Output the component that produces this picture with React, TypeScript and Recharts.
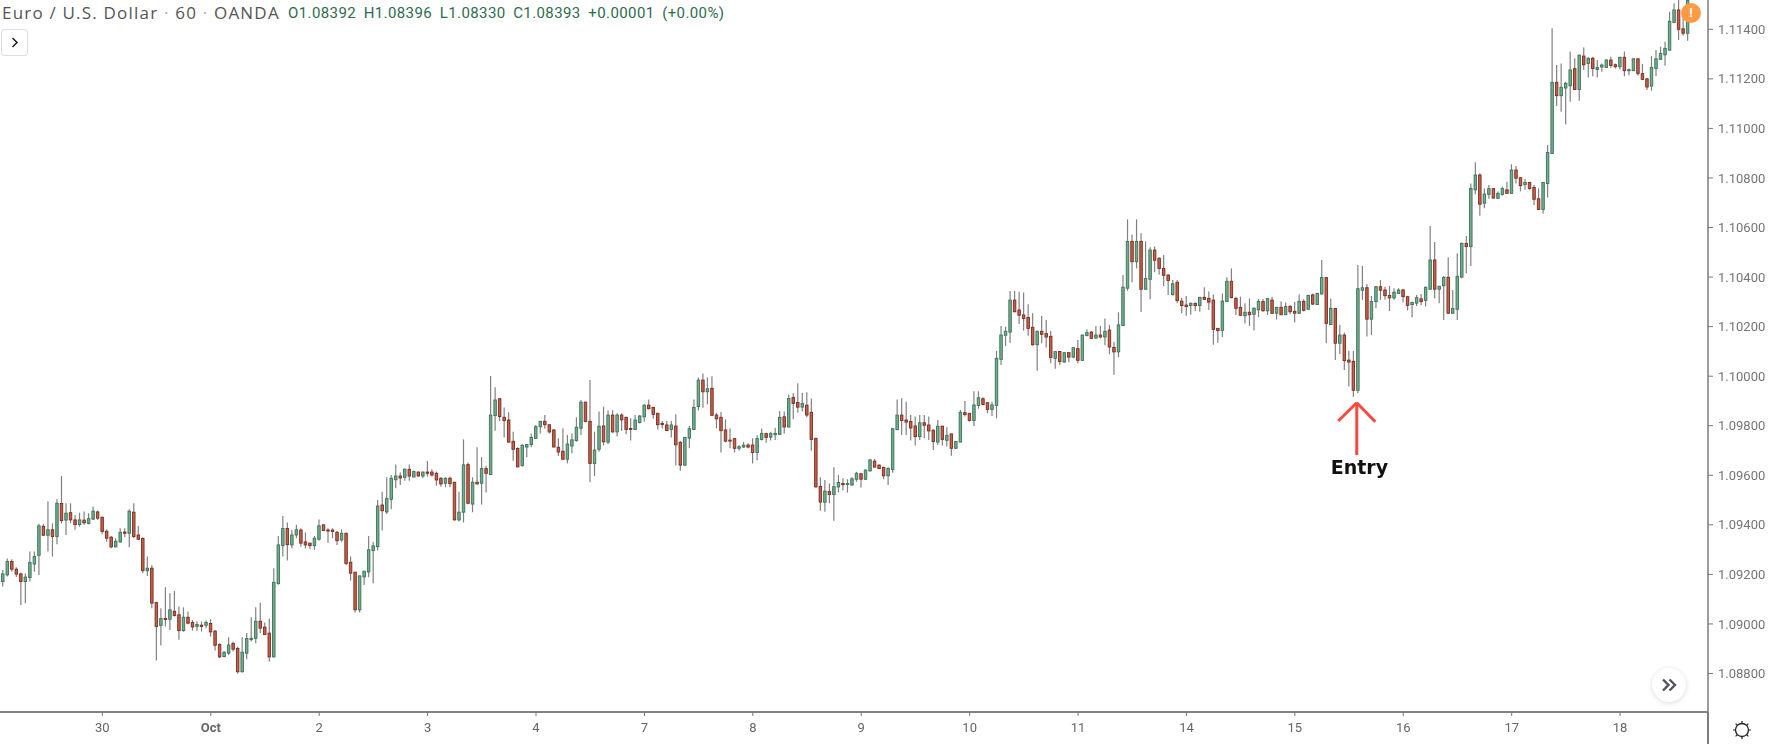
import { ComposedChart, Bar, XAxis, YAxis, ReferenceLine, ReferenceDot } from 'recharts'

// prices are kept in points (1.09171 -> 109171)
const opens = [109171,109198,109252,109221,109202,109171,109187,109242,109277,109394,109358,109380,109353,109486,109419,109449,109420,109401,109419,109406,109423,109452,109431,109374,109350,109311,109331,109371,109366,109451,109359,109345,109215,109225,109086,108994,109022,109019,109051,109037,108973,109027,109006,108990,108995,108995,109002,108971,108917,108868,108882,108921,108901,108807,108882,108937,108942,109011,108987,108963,108867,109163,109316,109385,109319,109359,109379,109331,109326,109316,109342,109400,109379,109379,109370,109339,109366,109249,109209,109057,109190,109210,109296,109312,109480,109452,109503,109582,109597,109592,109624,109593,109613,109597,109613,109613,109608,109588,109568,109588,109572,109420,109451,109643,109484,109572,109568,109627,109603,109841,109909,109834,109823,109737,109708,109639,109714,109724,109749,109796,109818,109804,109783,109713,109697,109665,109718,109740,109790,109895,109818,109648,109705,109799,109734,109843,109775,109843,109834,109789,109785,109813,109836,109883,109874,109850,109809,109803,109785,109799,109733,109641,109750,109785,109877,109984,109937,109951,109843,109834,109783,109742,109748,109709,109714,109722,109722,109692,109745,109768,109754,109764,109765,109836,109795,109914,109894,109875,109883,109854,109749,109555,109491,109535,109522,109553,109567,109563,109561,109584,109606,109584,109618,109657,109641,109632,109598,109623,109784,109843,109823,109817,109799,109756,109812,109803,109782,109734,109798,109741,109767,109709,109734,109853,109849,109821,109882,109909,109893,109866,109882,110068,110165,110178,110307,110267,110247,110237,110197,110127,110181,110172,110161,110072,110100,110057,110095,110077,110111,110064,110164,110178,110154,110166,110158,110186,110116,110098,110204,110355,110544,110462,110544,110351,110391,110509,110476,110435,110408,110329,110379,110303,110287,110285,110294,110285,110318,110314,110307,110193,110185,110301,110383,110314,110277,110244,110258,110250,110268,110301,110264,110307,110254,110278,110248,110282,110262,110254,110302,110270,110328,110289,110332,110398,110208,110273,110133,110166,110065,110060,109943,110347,110357,110230,110301,110361,110348,110326,110316,110334,110348,110321,110289,110295,110312,110306,110351,110469,110351,110365,110399,110254,110270,110400,110536,110523,110752,110812,110698,110734,110757,110718,110734,110752,110738,110832,110801,110773,110782,110762,110716,110673,110778,110899,111186,111132,111163,111172,111241,111157,111292,111262,111283,111238,111248,111246,111276,111257,111249,111287,111233,111233,111281,111221,111200,111171,111242,111279,111297,111316,111428,111478,111402,111384]
const highs = [109218,109264,109261,109229,109207,109205,109292,109292,109404,109404,109495,109406,109503,109597,109487,109487,109440,109449,109454,109447,109474,109458,109433,109382,109355,109346,109386,109386,109463,109487,109396,109350,109272,109238,109090,109063,109148,109124,109133,109070,109067,109050,109016,109010,109010,109014,109019,108976,108922,108890,108946,108929,108909,108946,108963,109027,109067,109086,109006,109022,109225,109355,109436,109409,109380,109400,109386,109369,109328,109355,109422,109402,109386,109386,109375,109382,109368,109272,109210,109195,109214,109355,109332,109500,109534,109592,109601,109644,109611,109628,109644,109619,109615,109615,109658,109624,109615,109592,109592,109595,109573,109534,109745,109652,109592,109713,109673,109638,110001,109955,109910,109874,109854,109776,109713,109726,109726,109769,109803,109819,109843,109806,109786,109749,109790,109763,109769,109834,109904,109897,109985,109776,109857,109877,109861,109863,109850,109850,109836,109830,109843,109843,109887,109906,109877,109852,109819,109819,109819,109846,109738,109754,109800,109906,109995,110011,109995,110000,109852,109855,109826,109789,109749,109722,109735,109729,109749,109762,109789,109772,109776,109792,109859,109857,109926,109931,109971,109933,109935,109910,109753,109592,109581,109567,109632,109601,109588,109584,109592,109614,109610,109624,109666,109666,109645,109635,109632,109790,109906,109911,109897,109843,109837,109843,109843,109837,109786,109823,109800,109794,109769,109739,109864,109900,109853,109939,109939,109915,109895,109897,110102,110203,110200,110344,110344,110341,110338,110290,110254,110184,110243,110227,110182,110102,110102,110096,110096,110116,110146,110167,110189,110182,110203,110203,110233,110207,110139,110258,110408,110633,110571,110633,110577,110544,110520,110523,110480,110489,110412,110388,110388,110317,110324,110297,110297,110321,110359,110342,110330,110194,110334,110399,110435,110321,110321,110294,110314,110278,110312,110312,110314,110321,110279,110301,110297,110287,110299,110330,110310,110329,110334,110337,110469,110399,110314,110274,110207,110176,110103,110102,110449,110445,110372,110324,110364,110388,110361,110364,110355,110355,110353,110324,110301,110328,110332,110361,110606,110542,110364,110404,110480,110348,110496,110540,110566,110778,110863,110819,110758,110772,110758,110745,110765,110785,110855,110848,110803,110796,110784,110772,110758,110785,110933,111404,111256,111262,111188,111310,111283,111297,111327,111287,111289,111276,111262,111279,111289,111262,111289,111310,111242,111282,111282,111260,111203,111292,111316,111330,111350,111471,111505,111518,111451,111518]
const lows = [109151,109191,109211,109189,109076,109084,109171,109211,109198,109355,109292,109272,109322,109406,109359,109406,109380,109393,109400,109402,109420,109420,109363,109332,109306,109310,109328,109350,109310,109346,109339,109205,109194,109063,108852,108913,108990,108976,109030,108936,108969,108999,108973,108973,108969,108983,108949,108893,108862,108866,108875,108889,108799,108804,108858,108929,108922,108963,108956,108847,108866,109158,109272,109256,109306,109346,109312,109305,109301,109299,109336,109375,109328,109346,109319,109332,109238,109175,109046,109046,109157,109188,109164,109296,109377,109444,109463,109548,109561,109578,109578,109592,109595,109588,109595,109595,109558,109554,109552,109552,109417,109413,109410,109483,109451,109564,109482,109531,109601,109780,109819,109753,109732,109659,109632,109635,109673,109713,109747,109769,109788,109769,109713,109678,109662,109648,109689,109736,109763,109814,109572,109597,109695,109721,109725,109772,109758,109780,109766,109740,109783,109809,109816,109866,109828,109785,109789,109779,109753,109639,109618,109637,109709,109783,109861,109873,109886,109840,109789,109692,109733,109709,109692,109699,109711,109709,109648,109661,109740,109731,109740,109742,109764,109769,109793,109826,109852,109857,109834,109699,109551,109457,109453,109487,109417,109531,109540,109530,109557,109574,109551,109581,109614,109632,109625,109584,109561,109610,109783,109763,109763,109740,109720,109742,109749,109742,109702,109722,109720,109716,109679,109706,109733,109837,109817,109799,109869,109882,109850,109839,109830,110045,110122,110135,110258,110211,110184,110163,110123,110022,110133,110116,110052,110030,110045,110055,110056,110072,110052,110062,110160,110151,110151,110153,110125,110089,110006,110076,110203,110345,110379,110435,110259,110348,110310,110419,110410,110364,110328,110326,110294,110254,110244,110248,110263,110260,110307,110267,110127,110135,110157,110298,110314,110247,110244,110213,110203,110184,110238,110260,110247,110251,110229,110247,110247,110250,110217,110251,110261,110268,110287,110287,110330,110133,110207,110065,110090,110025,109958,109917,109931,110308,110160,110166,110274,110308,110308,110263,110308,110332,110297,110265,110238,110283,110287,110281,110348,110314,110294,110227,110251,110251,110227,110395,110415,110445,110734,110648,110678,110716,110716,110715,110729,110735,110737,110778,110746,110752,110752,110691,110672,110657,110721,110898,111090,111067,111016,111108,111155,111112,111236,111206,111211,111206,111229,111244,111244,111242,111238,111211,111215,111232,111213,111195,111155,111152,111211,111276,111253,111315,111424,111357,111374,111354]
const closes = [109202,109252,109221,109201,109171,109189,109248,109272,109396,109358,109380,109353,109487,109417,109447,109420,109401,109420,109408,109425,109455,109427,109373,109346,109311,109334,109370,109366,109455,109353,109342,109215,109225,109084,108990,109022,109019,109057,109034,108973,109027,109003,108988,108998,108990,109006,108968,108914,108867,108886,108915,108898,108807,108886,108941,108942,109011,108983,108957,108867,109168,109319,109385,109320,109359,109380,109326,109319,109316,109346,109396,109377,109377,109373,109336,109366,109244,109205,109057,109194,109213,109299,109315,109476,109457,109506,109588,109597,109589,109624,109597,109615,109597,109613,109608,109601,109581,109565,109588,109566,109420,109451,109642,109487,109572,109565,109627,109608,109843,109904,109837,109821,109734,109705,109634,109721,109724,109753,109796,109818,109804,109775,109714,109694,109665,109726,109743,109794,109895,109817,109648,109702,109798,109735,109843,109775,109843,109824,109785,109785,109823,109839,109883,109869,109846,109804,109805,109781,109803,109723,109641,109753,109788,109874,109984,109937,109949,109842,109828,109780,109738,109738,109709,109715,109722,109714,109692,109748,109769,109753,109768,109769,109834,109795,109910,109890,109875,109890,109843,109745,109553,109492,109536,109523,109554,109571,109562,109567,109586,109608,109584,109621,109662,109633,109627,109598,109628,109788,109843,109821,109815,109791,109756,109812,109802,109779,109736,109798,109745,109761,109709,109736,109854,109845,109821,109884,109913,109886,109866,109884,110072,110166,110181,110307,110260,110246,110233,110193,110127,110181,110169,110158,110076,110099,110059,110095,110077,110115,110064,110166,110176,110153,110166,110158,110181,110118,110098,110207,110359,110544,110462,110544,110351,110394,110509,110468,110435,110407,110386,110373,110305,110285,110281,110294,110285,110318,110310,110299,110189,110184,110303,110383,110317,110274,110246,110258,110248,110274,110302,110264,110313,110254,110278,110248,110281,110260,110254,110302,110266,110326,110291,110334,110398,110213,110274,110133,110166,110063,110057,109943,110353,110357,110230,110301,110361,110347,110325,110316,110339,110348,110321,110286,110297,110317,110301,110359,110469,110351,110363,110399,110254,110273,110403,110536,110523,110758,110812,110694,110735,110757,110719,110738,110757,110738,110832,110799,110769,110782,110758,110714,110673,110782,110903,111186,111132,111166,111182,111236,111157,111296,111257,111283,111242,111246,111256,111276,111254,111249,111287,111233,111237,111281,111222,111198,111167,111246,111281,111303,111323,111432,111478,111400,111384,111516]

const dayTicks = [22, 46, 70, 94, 118, 142, 166, 190, 214, 238, 262, 286, 310, 334, 358]
const dayLabels = ['30', 'Oct', '2', '3', '4', '7', '8', '9', '10', '11', '14', '15', '16', '17', '18']
const priceTicks = [1.088, 1.09, 1.092, 1.094, 1.096, 1.098, 1.1, 1.102, 1.104, 1.106, 1.108, 1.11, 1.112, 1.114]

const rows = opens.map((open, i) => ({
  idx: i,
  open: open / 100000,
  close: closes[i] / 100000,
  high: highs[i] / 100000,
  low: lows[i] / 100000,
  range: [lows[i] / 100000, highs[i] / 100000],
}))

const FONT = 'Roboto, sans-serif'

function Candle(props: any) {
  const { x, y, width, height, payload } = props
  const { open, close, high, low } = payload
  const perUnit = height / (high - low || 1e-5)
  const cx = x + width / 2
  const bodyTop = y + (high - Math.max(open, close)) * perUnit
  const bodyH = Math.max(Math.abs(open - close) * perUnit, 1)
  const up = close >= open
  return (
    <g>
      <line x1={cx} x2={cx} y1={y} y2={y + height} stroke="#808080" strokeWidth={1.2} />
      <rect
        x={cx - 1.25}
        y={bodyTop}
        width={2.5}
        height={bodyH}
        fill={up ? '#73ab90' : '#c2604b'}
        stroke={up ? '#3a7458' : '#7c2c1f'}
        strokeWidth={0.9}
      />
    </g>
  )
}

function DayTick(props: any) {
  const { x, y, payload } = props
  const label = dayLabels[dayTicks.indexOf(payload.value)]
  return (
    <text x={x} y={y + 14} textAnchor="middle" fontFamily={FONT} fontSize={13} fill="#666"
      fontWeight={label === 'Oct' ? 700 : 400}>
      {label}
    </text>
  )
}

export default function App() {
  return (
    <div style={{ position: 'absolute', left: 0, top: 0, width: 1771, height: 744, background: '#fff', overflow: 'hidden', fontFamily: FONT }}>
      {/* the reference is an upscaled screenshot, hence the slight softening */}
      <div style={{ filter: 'blur(0.4px)' }}>
        <ComposedChart width={1771} height={744} data={rows} margin={{ top: 0, right: 0, bottom: 0, left: 0 }}>
          <XAxis
            type="number"
            dataKey="idx"
            domain={[-0.664, 377.46]}
            ticks={dayTicks}
            interval={0}
            height={32}
            tick={<DayTick />}
            tickSize={4}
            tickLine={{ stroke: '#777' }}
            axisLine={{ stroke: '#55585f', strokeWidth: 1.3 }}
          />
          <YAxis
            orientation="right"
            width={63}
            domain={[1.086446, 1.115183]}
            ticks={priceTicks}
            interval={0}
            tickFormatter={(v: number) => v.toFixed(5)}
            tick={{ fontFamily: FONT, fontSize: 13, fill: '#757575' }}
            tickSize={5}
            tickMargin={5}
            tickLine={{ stroke: '#777' }}
            axisLine={{ stroke: '#7b7b7b', strokeWidth: 1.5 }}
          />
          <Bar dataKey="range" barSize={5} shape={<Candle />} isAnimationActive={false} />
          <ReferenceLine segment={[{ x: 299.7, y: 1.09893 }, { x: 299.7, y: 1.09682 }]} stroke="#f9483d" strokeWidth={3} />
          <ReferenceLine segment={[{ x: 299.7, y: 1.09893 }, { x: 295.6, y: 1.09819 }]} stroke="#f9483d" strokeWidth={3} />
          <ReferenceLine segment={[{ x: 299.7, y: 1.09893 }, { x: 303.8, y: 1.09816 }]} stroke="#f9483d" strokeWidth={3} />
          <ReferenceDot
            x={300.3}
            y={1.09633}
            r={0}
            label={{ value: 'Entry', position: 'center', fontFamily: 'DejaVu Sans', fontWeight: 700, fontSize: 19, fill: '#111' }}
          />
        </ComposedChart>
      </div>

      {/* header */}
      <div style={{ position: 'absolute', left: 2, top: 1, fontFamily: '"Open Sans"', fontSize: 17, letterSpacing: 1.2, color: '#555', whiteSpace: 'nowrap' }}>
        Euro / U.S. Dollar <span style={{ color: '#aaa' }}>·</span> 60 <span style={{ color: '#aaa' }}>·</span> OANDA
      </div>
      <div style={{ position: 'absolute', left: 288, top: 4, fontSize: 15, letterSpacing: 0.4, color: '#2f6b4f', whiteSpace: 'nowrap', wordSpacing: 3.5 }}>
        O1.08392 H1.08396 L1.08330 C1.08393 +0.00001 (+0.00%)
      </div>
      <div style={{ position: 'absolute', left: 1, top: 29, width: 25, height: 25, border: '1px solid #dcdce2', borderRadius: 3, background: '#fff' }}>
        <svg width={25} height={25} viewBox="0 0 25 25">
          <path d="M10.5 8l4.5 4.5-4.5 4.5" fill="none" stroke="#222" strokeWidth={1.6} />
        </svg>
      </div>

      {/* alert badge */}
      <div style={{ position: 'absolute', left: 1681, top: 3, width: 20, height: 20, borderRadius: 10, background: '#ff9a45', color: '#fff', fontSize: 13, fontWeight: 700, textAlign: 'center', lineHeight: '20px' }}>
        !
      </div>

      {/* scroll to latest button */}
      <div style={{ position: 'absolute', left: 1652, top: 668, width: 34, height: 34, borderRadius: 17, background: '#fff', boxShadow: '0 1px 5px rgba(0,0,0,0.15)' }}>
        <svg width={34} height={34} viewBox="0 0 34 34">
          <path d="M11 11.5l5.5 5.5-5.5 5.5M17.5 11.5l5.5 5.5-5.5 5.5" fill="none" stroke="#50535e" strokeWidth={2.4} />
        </svg>
      </div>

      {/* axis corner */}
      <div style={{ position: 'absolute', left: 1707, top: 712, width: 2, height: 32, background: '#7b7b7b' }} />
      <svg style={{ position: 'absolute', left: 1731, top: 719 }} width={22} height={22} viewBox="0 0 22 22">
        <circle cx={11} cy={11} r={6.5} fill="none" stroke="#222" strokeWidth={1.3} />
        <path d="M11 2v2.5M11 17.5V20M2 11h2.5M17.5 11H20M4.6 4.6l1.8 1.8M15.6 15.6l1.8 1.8M4.6 17.4l1.8-1.8M15.6 6.4l1.8-1.8" stroke="#222" strokeWidth={1.2} />
      </svg>
    </div>
  )
}
